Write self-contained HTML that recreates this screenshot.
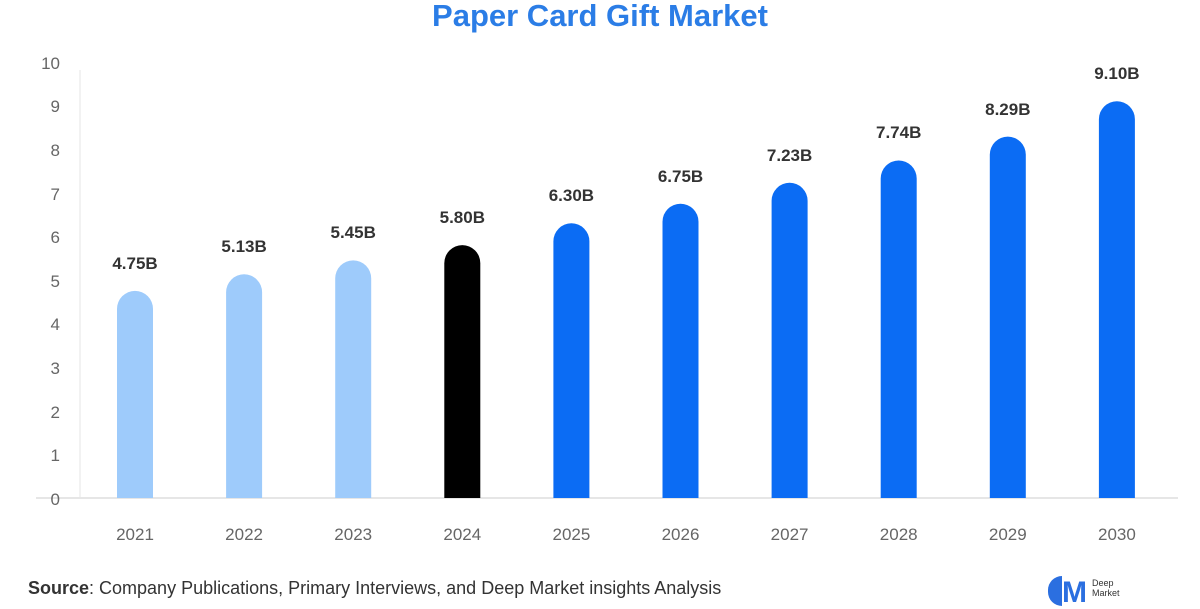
<!DOCTYPE html>
<html><head><style>
body{margin:0;width:1200px;height:600px;background:#fff;overflow:hidden;position:relative;font-family:"Liberation Sans",sans-serif}
.t{position:absolute;white-space:nowrap}
</style></head><body>
<div class="t" style="left:0;width:1200px;top:-2px;text-align:center;font-size:31px;font-weight:bold;color:#2b7de6">Paper Card Gift Market</div>
<svg width="1200" height="600" style="position:absolute;left:0;top:0" font-family="Liberation Sans, sans-serif">
<line x1="80" y1="70" x2="80" y2="498" stroke="#eee" stroke-width="1.5"/>
<line x1="36" y1="498" x2="1178" y2="498" stroke="#e6e6e6" stroke-width="2"/>
<g font-size="17" fill="#666" text-anchor="end">
<text x="60" y="505">0</text><text x="60" y="461">1</text><text x="60" y="418">2</text><text x="60" y="374">3</text><text x="60" y="330">4</text><text x="60" y="287">5</text><text x="60" y="243">6</text><text x="60" y="200">7</text><text x="60" y="156">8</text><text x="60" y="112">9</text><text x="60" y="69">10</text>
</g>
<path d="M117 498V308.9A18 18 0 0 1 153 308.9V498Z" fill="#9ecbfb"/>
<path d="M226.1 498V292.3A18 18 0 0 1 262.1 292.3V498Z" fill="#9ecbfb"/>
<path d="M335.2 498V278.4A18 18 0 0 1 371.2 278.4V498Z" fill="#9ecbfb"/>
<path d="M444.3 498V263.1A18 18 0 0 1 480.3 263.1V498Z" fill="#000"/>
<path d="M553.4 498V241.3A18 18 0 0 1 589.4 241.3V498Z" fill="#0b6cf4"/>
<path d="M662.5 498V221.7A18 18 0 0 1 698.5 221.7V498Z" fill="#0b6cf4"/>
<path d="M771.6 498V200.8A18 18 0 0 1 807.6 200.8V498Z" fill="#0b6cf4"/>
<path d="M880.7 498V178.5A18 18 0 0 1 916.7 178.5V498Z" fill="#0b6cf4"/>
<path d="M989.8 498V154.6A18 18 0 0 1 1025.8 154.6V498Z" fill="#0b6cf4"/>
<path d="M1098.9 498V119.2A18 18 0 0 1 1134.9 119.2V498Z" fill="#0b6cf4"/>
<g font-size="17" font-weight="bold" fill="#333" text-anchor="middle">
<text x="135" y="269">4.75B</text>
<text x="244.1" y="252">5.13B</text>
<text x="353.2" y="238">5.45B</text>
<text x="462.3" y="223">5.80B</text>
<text x="571.4" y="201">6.30B</text>
<text x="680.5" y="182">6.75B</text>
<text x="789.6" y="161">7.23B</text>
<text x="898.7" y="138">7.74B</text>
<text x="1007.8" y="115">8.29B</text>
<text x="1116.9" y="79">9.10B</text>
</g>
<g font-size="17" fill="#666" text-anchor="middle">
<text x="135" y="540">2021</text><text x="244.1" y="540">2022</text><text x="353.2" y="540">2023</text><text x="462.3" y="540">2024</text><text x="571.4" y="540">2025</text><text x="680.5" y="540">2026</text><text x="789.6" y="540">2027</text><text x="898.7" y="540">2028</text><text x="1007.8" y="540">2029</text><text x="1116.9" y="540">2030</text>
</g>
</svg>
<div class="t" style="left:28px;top:578px;font-size:18px;color:#333"><b>Source</b>: Company Publications, Primary Interviews, and Deep Market insights Analysis</div>
<div class="t" style="left:1048px;top:576px;width:14px;height:30px;background:#2b6fe0;border-radius:14px 0 0 14px"></div>
<div class="t" style="left:1062px;top:578px;font-size:30px;font-weight:bold;color:#2b6fe0;line-height:30px">M</div>
<div class="t" style="left:1092px;top:578px;font-size:9px;color:#333;line-height:10px">Deep<br>Market</div>
</body></html>
